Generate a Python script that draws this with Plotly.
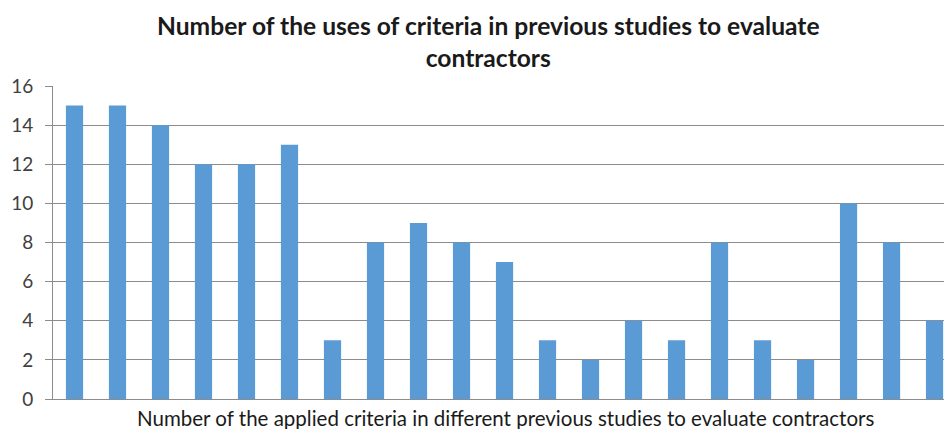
import plotly.graph_objects as go

categories = [str(i) for i in range(1, 22)]
values = [15, 15, 14, 12, 12, 13, 3, 8, 9, 8, 7, 3, 2, 4, 3, 8, 3, 2, 10, 8, 4]
y_ticks = [0, 2, 4, 6, 8, 10, 12, 14, 16]

title_text = "Number of the uses of criteria in previous studies to evaluate<br>contractors"
x_title = "Number of the applied criteria in different previous studies to evaluate contractors"

fig = go.Figure()
fig.add_trace(go.Bar(
    x=list(range(len(categories))), y=values,
    marker=dict(color="#5B9BD5", line=dict(width=0)),
    width=0.4,
    hoverinfo="y",
))

W, H = 944, 429
L, R, T, B = 53, 0, 86, 30

fig.update_layout(
    width=W, height=H,
    margin=dict(l=L, r=R, t=T, b=B),
    paper_bgcolor="white", plot_bgcolor="white",
    font=dict(family="Lato, 'Open Sans', sans-serif", color="#404040"),
    showlegend=False,
    xaxis=dict(
        range=[-0.5, 20.22],
        showticklabels=False, ticks="",
        showgrid=False, zeroline=False,
        showline=True, linecolor="#8c8c8c", linewidth=1,
    ),
    yaxis=dict(
        range=[0, 16], tickvals=y_ticks,
        showgrid=True, gridcolor="#8c8c8c", gridwidth=1,
        zeroline=False,
        showline=True, linecolor="#8c8c8c", linewidth=1,
        ticks="outside", ticklen=7, tickcolor="#8c8c8c",
        ticklabelstandoff=8,
        tickfont=dict(size=19, color="#404040"),
    ),
    annotations=[
        dict(text="<b>" + title_text + "</b>", xref="paper", yref="paper",
             x=(488 - L) / (W - L - R), y=1, yshift=77, xanchor="center", yanchor="top",
             showarrow=False, font=dict(size=24.6, color="#1a1a1a"), align="center"),
        dict(text=x_title, xref="paper", yref="paper",
             x=(505 - L) / (W - L - R), y=0, yshift=-5, xanchor="center", yanchor="top",
             showarrow=False, font=dict(size=20.5, color="#1a1a1a")),
    ],
)

fig.write_html("out.html", config={"displayModeBar": False},
               post_script="document.body.style.margin='0';document.body.style.overflow='hidden';")
